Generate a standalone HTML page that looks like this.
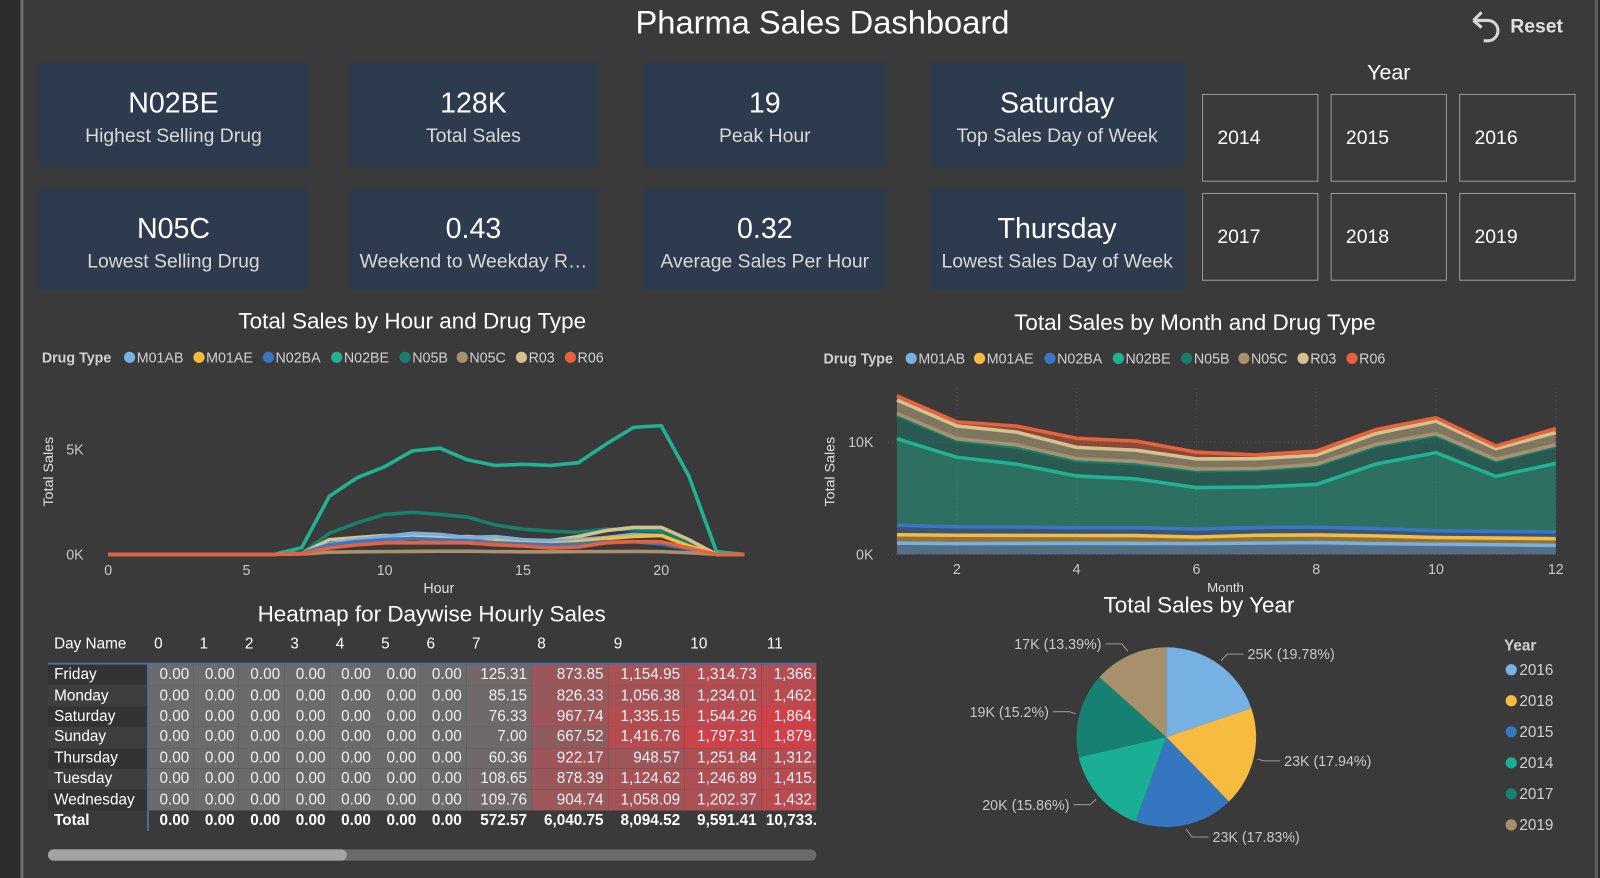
<!DOCTYPE html>
<html><head><meta charset="utf-8">
<style>
html,body{margin:0;padding:0;background:#3a3a3a;overflow:hidden;}
body{width:1600px;height:878px;font-family:"Liberation Sans",sans-serif;color:#fff;}
#wrap{position:absolute;left:0;top:0;width:1568px;height:860px;transform:scale(1.020408,1.02093);transform-origin:0 0;background:#3a3a3a;}
.abs{position:absolute;}
.card{position:absolute;background:#2e3b4e;text-align:center;}
.card .v{font-size:28px;margin-top:24px;color:#fff;}
.card .l{font-size:19px;color:#d8d8d8;margin-top:6px;white-space:nowrap;}
.yr{position:absolute;border:1px solid #9a9a9a;width:114px;height:86px;box-sizing:border-box;font-size:19px;color:#fff;padding:32px 0 0 14px;}
.title{position:absolute;font-size:22px;color:#fff;white-space:nowrap;transform:translateX(-50%);}
#heat{position:absolute;left:47px;top:617px;width:753px;height:205px;overflow:hidden;}
#heat table{border-collapse:collapse;font-size:15px;table-layout:fixed;}
#heat td{height:20.4px;padding:0 4px 0 0;text-align:right;white-space:nowrap;overflow:hidden;line-height:20px;}
#heat th{font-weight:normal;text-align:left;padding:0 0 0 6px;height:32px;line-height:28px;font-size:15px;vertical-align:top;}
svg text{font-family:"Liberation Sans",sans-serif;}
</style></head><body>
<div id="wrap">
<div class="abs" style="left:0;top:0;width:20px;height:860px;background:#2c2c2c"></div>
<div class="abs" style="left:20px;top:0;width:3px;height:860px;background:#6e6e6e"></div>
<div class="abs" style="left:1563px;top:0;width:3px;height:860px;background:#5e5e5e"></div>
<div class="abs" style="left:1566px;top:0;width:10px;height:860px;background:#2c2c2c"></div>

<div class="title" style="left:806px;top:4px;font-size:32px">Pharma Sales Dashboard</div>
<div class="abs" style="left:1438px;top:8px;width:100px;height:40px;cursor:pointer">
<svg width="40" height="40" class="abs" style="left:0;top:0"><path d="M6 12 L14 4 M6 12 L14 19 M6 12 H20 A10 10 0 0 1 20 32 H16" fill="none" stroke="#d6d6d6" stroke-width="3"/></svg>
<div class="abs" style="left:42px;top:8px;font-size:19px;font-weight:bold;color:#e0e0e0">Reset</div></div>

<div class="card" style="left:37px;top:61px;width:266px;height:102px"><div class="v">N02BE</div><div class="l">Highest Selling Drug</div></div>
<div class="card" style="left:341px;top:61px;width:246px;height:102px"><div class="v">128K</div><div class="l">Total Sales</div></div>
<div class="card" style="left:630px;top:61px;width:239px;height:102px"><div class="v">19</div><div class="l">Peak Hour</div></div>
<div class="card" style="left:911px;top:61px;width:250px;height:102px"><div class="v">Saturday</div><div class="l">Top Sales Day of Week</div></div>
<div class="card" style="left:37px;top:184px;width:266px;height:99px"><div class="v">N05C</div><div class="l">Lowest Selling Drug</div></div>
<div class="card" style="left:341px;top:184px;width:246px;height:99px"><div class="v">0.43</div><div class="l">Weekend to Weekday R…</div></div>
<div class="card" style="left:630px;top:184px;width:239px;height:99px"><div class="v">0.32</div><div class="l">Average Sales Per Hour</div></div>
<div class="card" style="left:911px;top:184px;width:250px;height:99px"><div class="v">Thursday</div><div class="l">Lowest Sales Day of Week</div></div>

<div class="title" style="left:1361px;top:60px;font-size:21px">Year</div>
<div class="yr" style="left:1178px;top:92px">2014</div>
<div class="yr" style="left:1304px;top:92px">2015</div>
<div class="yr" style="left:1430px;top:92px">2016</div>
<div class="yr" style="left:1178px;top:189px">2017</div>
<div class="yr" style="left:1304px;top:189px">2018</div>
<div class="yr" style="left:1430px;top:189px">2019</div>

<div class="title" style="left:404px;top:302px">Total Sales by Hour and Drug Type</div>
<div class="title" style="left:1171px;top:303px">Total Sales by Month and Drug Type</div>
<div class="title" style="left:423px;top:589px">Heatmap for Daywise Hourly Sales</div>
<div class="title" style="left:1175px;top:580px">Total Sales by Year</div>

<svg id="charts" class="abs" style="left:0;top:0" width="1568" height="860"></svg>

<div id="heat"></div>
<div class="abs" style="left:47px;top:832px;width:753px;height:11px;border-radius:6px;background:#6a6a6a">
<div class="abs" style="left:0;top:0;width:293px;height:11px;border-radius:6px;background:#a3a3a3"></div></div>
</div>

<script>
// ---- data ----
const drugs = ["M01AB","M01AE","N02BA","N02BE","N05B","N05C","R03","R06"];
const drugColors = ["#77b0e2","#f6bb3f","#3a76c1","#1fb393","#16806d","#a89070","#d3c18f","#e8613a"];
const hours = [0,1,2,3,4,5,6,7,8,9,10,11,12,13,14,15,16,17,18,19,20,21,22,23];
const hM01AB = [0,0,0,0,0,0,0,0.05,0.5,0.7,0.85,1.0,0.95,0.8,0.85,0.7,0.65,0.7,0.8,0.95,0.9,0.4,0,0];
const hM01AE = [0,0,0,0,0,0,0,0.05,0.4,0.6,0.7,0.75,0.7,0.65,0.6,0.55,0.5,0.6,0.75,0.85,0.9,0.4,0,0];
const hN02BA = [0,0,0,0,0,0,0,0.05,0.45,0.6,0.7,0.75,0.7,0.65,0.55,0.5,0.45,0.5,0.6,0.6,0.5,0.25,0,0];
const hN02BE = [0,0,0,0,0,0,0,0.32,2.76,3.64,4.17,4.92,5.05,4.49,4.23,4.28,4.23,4.36,5.24,6.04,6.12,3.72,0.13,0];
const hN05B  = [0,0,0,0,0,0,0,0.05,1.0,1.5,1.9,2.0,1.9,1.77,1.4,1.2,1.1,1.05,1.2,1.17,1.1,0.5,0,0];
const hN05C  = [0,0,0,0,0,0,0,0.02,0.1,0.12,0.13,0.14,0.15,0.15,0.13,0.12,0.12,0.13,0.13,0.14,0.13,0.08,0,0];
const hR03   = [0,0,0,0,0,0,0,0.05,0.7,0.8,0.9,0.88,0.8,0.85,0.77,0.65,0.65,0.85,1.13,1.28,1.28,0.7,0,0];
const hR06   = [0,0,0,0,0,0,0,0.03,0.3,0.45,0.55,0.55,0.55,0.55,0.45,0.4,0.3,0.35,0.55,0.6,0.6,0.3,0,0];
const hourSeries = [hM01AB,hM01AE,hN02BA,hN02BE,hN05B,hN05C,hR03,hR06];
const hourXTicks = [0,5,10,15,20];
const hourYTicks = [0,5];
const hourYLabels = ["0K","5K"];

const months = [1,2,3,4,5,6,7,8,9,10,11,12];
const mM01AB = [1.0,0.95,0.97,0.98,0.97,0.95,1.0,1.05,0.95,0.9,0.85,0.8];
const mM01AE = [0.75,0.75,0.72,0.7,0.7,0.6,0.7,0.68,0.7,0.6,0.6,0.6];
const mN02BA = [0.85,0.75,0.75,0.7,0.7,0.7,0.7,0.7,0.65,0.6,0.6,0.6];
const mN02BE = [7.7,6.2,5.6,4.6,4.35,3.7,3.6,3.8,5.75,6.95,4.9,6.1];
const mN05B  = [2.1,1.5,1.5,1.35,1.35,1.5,1.5,1.65,1.6,1.55,1.35,1.55];
const mN05C  = [0.15,0.15,0.2,0.2,0.2,0.15,0.15,0.15,0.15,0.15,0.15,0.12];
const mR03   = [1.2,1.14,1.14,1.0,1.0,0.9,0.87,0.81,0.96,1.11,0.96,1.08];
const mR06   = [0.36,0.36,0.54,0.81,0.81,0.6,0.33,0.36,0.36,0.3,0.24,0.36];
const monthSeries = [mM01AB,mM01AE,mN02BA,mN02BE,mN05B,mN05C,mR03,mR06];
const monthXTicks = [2,4,6,8,10,12];
const monthYTicks = [0,10];
const monthYLabels = ["0K","10K"];

const pieYears = ["2016","2018","2015","2014","2017","2019"];
const pieValues = [19.78,17.94,17.83,15.86,15.2,13.39];
const pieLabels = ["25K (19.78%)","23K (17.94%)","23K (17.83%)","20K (15.86%)","19K (15.2%)","17K (13.39%)"];
const pieColors = ["#77b0e2","#f6bb3f","#3576c0","#1aae94","#168170","#a8906c"];

const heatDays = ["Friday","Monday","Saturday","Sunday","Thursday","Tuesday","Wednesday"];
const heatHours = [0,1,2,3,4,5,6,7,8,9,10,11];
const heatValues = [
 [0,0,0,0,0,0,0,125.31,873.85,1154.95,1314.73,1366.42],
 [0,0,0,0,0,0,0,85.15,826.33,1056.38,1234.01,1462.18],
 [0,0,0,0,0,0,0,76.33,967.74,1335.15,1544.26,1864.57],
 [0,0,0,0,0,0,0,7.00,667.52,1416.76,1797.31,1879.24],
 [0,0,0,0,0,0,0,60.36,922.17,948.57,1251.84,1312.66],
 [0,0,0,0,0,0,0,108.65,878.39,1124.62,1246.89,1415.33],
 [0,0,0,0,0,0,0,109.76,904.74,1058.09,1202.37,1432.71]];
const heatTotals = [0,0,0,0,0,0,0,572.57,6040.75,8094.52,9591.41,10733.11];

// ---- helpers ----
const NS="http://www.w3.org/2000/svg";
const svg=document.getElementById('charts');
function mk(tag,attrs,parent){const e=document.createElementNS(NS,tag);for(const k in attrs)e.setAttribute(k,attrs[k]);(parent||svg).appendChild(e);return e;}
function txt(x,y,s,attrs,parent){const t=mk('text',Object.assign({x:x,y:y,fill:'#c8c8c8','font-size':14},attrs||{}),parent);t.textContent=s;return t;}

// ---- hour chart ----
const hx=h=>106+h*27.1, hy=v=>543-v*20.6;
const gHour=mk('g',{});


hourXTicks.forEach(t=>{const e=txt(hx(t),563,String(t),{'text-anchor':'middle'},gHour);});
hourYTicks.forEach((t,i)=>{const e=txt(82,hy(t)+5,hourYLabels[i],{'text-anchor':'end'},gHour);});
let e1=txt(52,462,'Total Sales',{'text-anchor':'middle',transform:'rotate(-90 52 462)',fill:'#e0e0e0'},gHour);


e1=txt(430,581,'Hour',{'text-anchor':'middle',fill:'#e0e0e0'},gHour);


const hourOrder=[3,4,6,0,1,2,5,7];
hourOrder.forEach(i=>{
  const d=hourSeries[i].map((v,k)=>(k?'L':'M')+hx(hours[k]).toFixed(1)+' '+hy(v).toFixed(1)).join(' ');
  const p=mk('path',{d:d,fill:'none',stroke:drugColors[i],'stroke-width':3.5,'stroke-linejoin':'round'},gHour);
  
  
});

// ---- legends ----
function legend(x0,y0,xs,prefix){
  const t=txt(x0,y0,'Drug Type',{'font-weight':'bold',fill:'#d0d0d0'});
  
  
  drugs.forEach((d,i)=>{
    const g=mk('g',{});
    
    
    mk('circle',{cx:xs[i],cy:y0-5,r:5.5,fill:drugColors[i]},g);
    txt(xs[i]+7,y0,d,{fill:'#d0d0d0'},g);
  });
}
legend(41,355,[127,195,263,330,397,453,511,559],'hour');
legend(807,356,[893,960,1029,1096,1163,1219,1277,1325],'month');

// ---- month chart ----
const mx=m=>879+(m-1)*58.7, my=v=>543-v*11;
const gMon=mk('g',{});


monthXTicks.forEach(t=>{mk('line',{x1:mx(t),x2:mx(t),y1:380,y2:543,stroke:'#555','stroke-dasharray':'1 3'},gMon);
  const e=txt(mx(t),562,String(t),{'text-anchor':'middle'},gMon);});
monthYTicks.forEach((t,i)=>{mk('line',{x1:870,x2:1528,y1:my(t),y2:my(t),stroke:'#555','stroke-dasharray':'1 3'},gMon);
  const e=txt(856,my(t)+5,monthYLabels[i],{'text-anchor':'end'},gMon);});
e1=txt(818,462,'Total Sales',{'text-anchor':'middle',transform:'rotate(-90 818 462)',fill:'#e0e0e0'},gMon);


e1=txt(1201,580,'Month',{'text-anchor':'middle',fill:'#e0e0e0','font-size':13},gMon);


let base=months.map(()=>0);
const tops=[];
monthSeries.forEach((s,i)=>{
  const top=base.map((b,k)=>b+s[k]);
  const up=top.map((v,k)=>(k?'L':'M')+mx(months[k]).toFixed(1)+' '+my(v).toFixed(1)).join(' ');
  const dn=base.map((v,k)=>'L'+mx(months[k]).toFixed(1)+' '+my(v).toFixed(1)).reverse().join(' ');
  const a=mk('path',{d:up+' '+dn+' Z',fill:drugColors[i],'fill-opacity':0.45},gMon);
  
  
  tops.push(up);base=top;
});
tops.forEach((up,i)=>{
  const l=mk('path',{d:up,fill:'none',stroke:drugColors[i],'stroke-width':3.5,'stroke-linejoin':'round'},gMon);
  
  
});

// ---- pie ----
const cx=1143,cy=722,r=88;
const gPie=mk('g',{});


const tot=pieValues.reduce((a,b)=>a+b,0);
let ang=-Math.PI/2;
pieValues.forEach((v,i)=>{
  const a2=ang+v/tot*2*Math.PI;
  const x1=cx+r*Math.cos(ang),y1=cy+r*Math.sin(ang),x2=cx+r*Math.cos(a2),y2=cy+r*Math.sin(a2);
  const s=mk('path',{d:`M${cx} ${cy} L${x1.toFixed(1)} ${y1.toFixed(1)} A${r} ${r} 0 ${a2-ang>Math.PI?1:0} 1 ${x2.toFixed(1)} ${y2.toFixed(1)} Z`,fill:pieColors[i]},gPie);
  
  
  const m=(ang+a2)/2, ex=cx+(r+4)*Math.cos(m), ey=cy+(r+4)*Math.sin(m);
  const right=Math.cos(m)>=0, lx=ex+(right?6:-6), ly=ey+(Math.sin(m)*8);
  const hx2=lx+(right?16:-16);
  mk('polyline',{points:`${ex.toFixed(1)},${ey.toFixed(1)} ${lx.toFixed(1)},${ly.toFixed(1)} ${hx2.toFixed(1)},${ly.toFixed(1)}`,fill:'none',stroke:'#999','stroke-width':1},gPie);
  const t=txt(hx2+(right?4:-4),ly+5,pieLabels[i],{'text-anchor':right?'start':'end','font-size':14},gPie);
  
  
  ang=a2;
});
e1=txt(1474,637,'Year',{'font-weight':'bold',fill:'#d0d0d0','font-size':15});


pieYears.forEach((y,i)=>{
  const g=mk('g',{});
  
  
  const yy=661+i*30.4;
  mk('circle',{cx:1481,cy:yy-5,r:5.5,fill:pieColors[i]},g);
  txt(1489,yy,y,{fill:'#d0d0d0','font-size':15},g);
});

// ---- heatmap ----
const widths=[98,44.5,44.5,44.5,44.5,44.5,44.5,44.5,64,75,75,75,75];
function fmt(v){return v.toLocaleString('en-US',{minimumFractionDigits:2,maximumFractionDigits:2});}
function col(v){const t=Math.min(v/1900,1);const a=[107,107,107],b=[208,64,72];return `rgb(${a.map((c,i)=>Math.round(c+(b[i]-c)*t)).join(',')})`;}
const tbl=document.createElement('table');


tbl.style.width=widths.reduce((a,b)=>a+b,0)+'px';
const cg=document.createElement('colgroup');widths.forEach(w=>{const c=document.createElement('col');c.style.width=w+'px';cg.appendChild(c);});tbl.appendChild(cg);
const hr=document.createElement('tr');
['Day Name'].concat(heatHours.map(String)).forEach(h=>{const th=document.createElement('th');th.textContent=h;th.style.borderBottom='2px solid #4a6c9c';hr.appendChild(th);});
tbl.appendChild(hr);
heatDays.forEach((d,ri)=>{
  const tr=document.createElement('tr');
  
  
  const td=document.createElement('td');td.textContent=d;td.style.textAlign='left';td.style.paddingLeft='6px';
  td.style.background=ri%2?'#3e3e3e':'#333';td.style.borderRight='2px solid #4a6c9c';tr.appendChild(td);
  heatValues[ri].forEach(v=>{const c=document.createElement('td');c.textContent=fmt(v);c.style.background=col(v);c.style.color='#f0f0f0';tr.appendChild(c);});
  tbl.appendChild(tr);
});
const trt=document.createElement('tr');


const tt=document.createElement('td');tt.textContent='Total';tt.style.textAlign='left';tt.style.paddingLeft='6px';tt.style.fontWeight='bold';tt.style.borderRight='2px solid #4a6c9c';trt.appendChild(tt);
heatTotals.forEach(v=>{const c=document.createElement('td');c.textContent=fmt(v);c.style.fontWeight='bold';trt.appendChild(c);});
tbl.appendChild(trt);
document.getElementById('heat').appendChild(tbl);
</script>
</body></html>
